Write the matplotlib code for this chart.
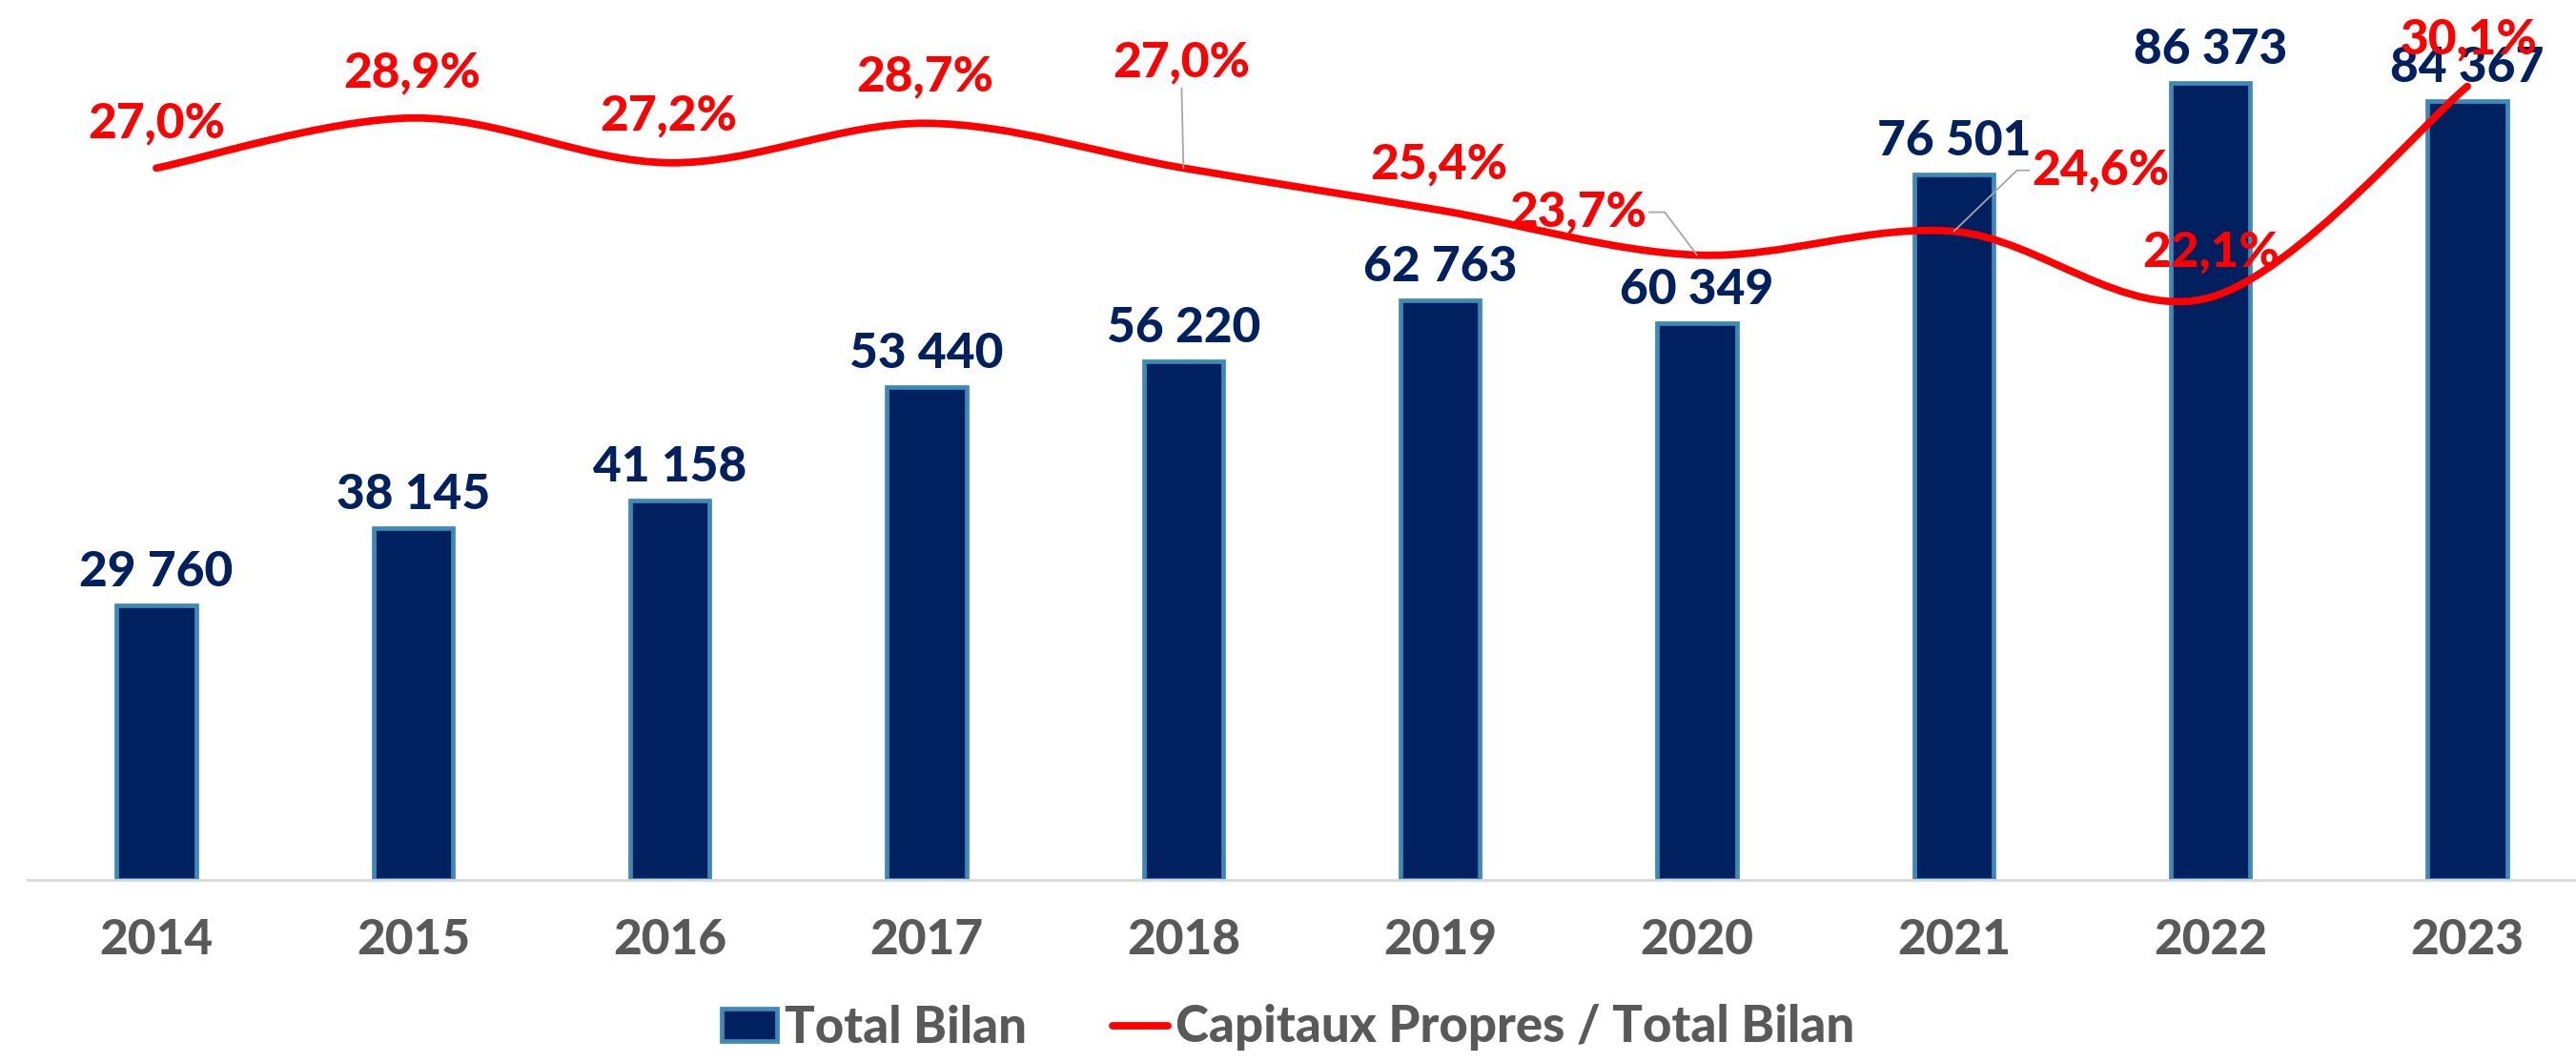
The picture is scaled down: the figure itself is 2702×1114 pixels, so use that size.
import matplotlib
matplotlib.use("Agg")
import matplotlib.pyplot as plt
from matplotlib.path import Path
from matplotlib.patches import PathPatch
from matplotlib.lines import Line2D

plt.rcParams["font.family"] = ["Lato", "DejaVu Sans"]
plt.rcParams["font.weight"] = "black"

years = ["2014", "2015", "2016", "2017", "2018", "2019", "2020", "2021", "2022", "2023"]
total_bilan = [29760, 38145, 41158, 53440, 56220, 62763, 60349, 76501, 86373, 84367]
ratio_cp = [27.0, 28.9, 27.2, 28.7, 27.0, 25.4, 23.7, 24.6, 22.1, 30.1]

NAVY = "#002060"
EDGE = "#3F89B9"
RED = "#FF0000"
GREY = "#595959"
LEADER = "#A6A6A6"
FW = "black"

# décalage des étiquettes % (pixels, y vers le haut) + lignes de rappel
PCT_OFF = [(0, 46), (-1, 47), (-1, 49), (-2, 48), (-2, 110), (-1, 48),
           (-125, 45), (154, 64), (0, 47), (1, 49)]
LEADERS = {4: dict(relpos=(0.5, 0.0), connectionstyle="arc3"),
           6: dict(relpos=(1.0, 0.5), connectionstyle="angle,angleA=0,angleB=127,rad=0"),
           7: dict(relpos=(0.0, 0.5), connectionstyle="angle,angleA=180,angleB=44,rad=0")}

W, H = 2702, 1114
fig = plt.figure(figsize=(W / 100, H / 100), dpi=100)
ax = fig.add_axes([29.3 / W, 191 / H, 1 - 29.3 / W, 890.5 / H])
x = list(range(len(years)))

bars = ax.bar(x, total_bilan, width=0.31, color=NAVY, edgecolor=EDGE, linewidth=3.4, zorder=2)
ax.set_xlim(-0.5, 9.423)
ax.set_ylim(0, 92000)
for s in ("top", "left", "right"):
    ax.spines[s].set_visible(False)
ax.spines["bottom"].set_color("#D9D9D9")
ax.spines["bottom"].set_linewidth(2)
ax.set_yticks([])
ax.set_xticks(x)
ax.set_xticklabels(years, fontsize=37, color=GREY, fontweight=FW)
ax.tick_params(axis="x", length=0, pad=29)

for i, v in enumerate(total_bilan):
    ax.annotate(f"{v:,}".replace(",", " "), xy=(i, v), xytext=(0, 20), textcoords="offset pixels",
                ha="center", va="baseline", fontsize=37, fontweight=FW, color=NAVY, zorder=3)

# ratio sur axe secondaire, courbe lissée (Catmull-Rom -> Bézier)
ax2 = ax.twinx()
ax2.set_ylim(0, 92000 * 35 / 100000)
ax2.set_yticks([])
for s in ax2.spines.values():
    s.set_visible(False)

pts = list(zip(x, ratio_cp))
verts = [pts[0]]
codes = [Path.MOVETO]
n = len(pts)
for i in range(n - 1):
    p0 = pts[max(i - 1, 0)]
    p1 = pts[i]
    p2 = pts[i + 1]
    p3 = pts[min(i + 2, n - 1)]
    c1 = (p1[0] + (p2[0] - p0[0]) / 6, p1[1] + (p2[1] - p0[1]) / 6)
    c2 = (p2[0] - (p3[0] - p1[0]) / 6, p2[1] - (p3[1] - p1[1]) / 6)
    verts += [c1, c2, p2]
    codes += [Path.CURVE4] * 3
ax2.add_patch(PathPatch(Path(verts, codes), fc="none", ec=RED, lw=5.6, capstyle="round", zorder=4))

for i, v in enumerate(ratio_cp):
    dx, dy = PCT_OFF[i]
    kw = {}
    if i in LEADERS:
        kw["arrowprops"] = dict(arrowstyle="-", color=LEADER, lw=1.3, shrinkA=0, shrinkB=0,
                                **LEADERS[i])
    ax2.annotate(f"{v:.1f}%".replace(".", ","), xy=(i, v), xytext=(dx, dy),
                 textcoords="offset pixels", ha="center", va="center", fontsize=37,
                 fontweight=FW, color=RED, zorder=5, **kw)

handles = [bars, Line2D([], [], color=RED, lw=5.6, solid_capstyle="round")]
fig.legend(handles, ["Total Bilan", "Capitaux Propres / Total Bilan"], loc="center",
           bbox_to_anchor=(0.5, 1 - 1078 / H), ncol=2, frameon=False,
           prop=dict(size=38, weight=FW), labelcolor=GREY, handlelength=1.1,
           handleheight=0.6, handletextpad=0.15, columnspacing=1.7)

fig.savefig("out.png", dpi=100, facecolor="white")
